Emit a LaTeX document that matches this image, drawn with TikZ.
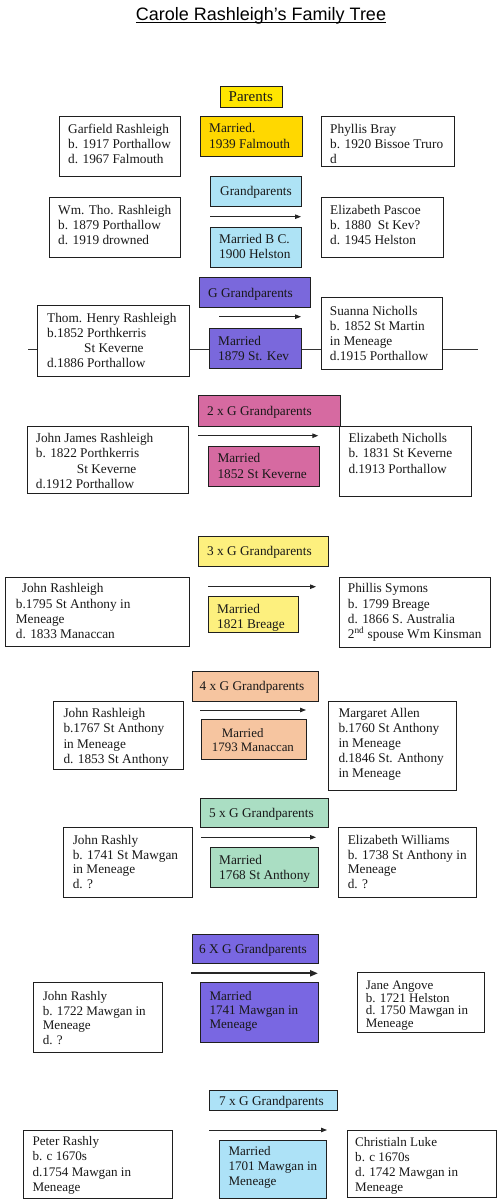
\documentclass[tikz,border=0pt]{standalone}
\usepackage{fontspec}
\setmainfont{Liberation Serif}
\newfontfamily\titlefont{Liberation Sans}
\usetikzlibrary{arrows.meta}
\definecolor{cParents}{HTML}{FFE600}
\definecolor{cGold}{HTML}{FFD800}
\definecolor{cBlue}{HTML}{AEE3F5}
\definecolor{cPurple}{HTML}{7A68DC}
\definecolor{cPink}{HTML}{D66AA1}
\definecolor{cLYellow}{HTML}{FDF07E}
\definecolor{cPeach}{HTML}{F6C5A0}
\definecolor{cGreen}{HTML}{AADEC3}
\definecolor{cPurpleB}{HTML}{7967E2}
\definecolor{cBlueB}{HTML}{ADE2F7}
\newcommand\tstrut{\rule{0pt}{10.6pt}}
% #1 opt text style, #2 name, #3 x, #4 y, #5 w, #6 h, #7 fill, #8 pad, #9 text
\newcommand\pbx[9][]{%
  \node[boxst, fill=#7, minimum width=#5pt, minimum height=#6pt] (#2) at (#3,#4) {};
  \node[txtst, #1] (#2-t) at ([xshift=#8pt, yshift=-6.2pt]#2.north west) {\tstrut #9};
}
\newcommand\lbx[9][]{%
  \node[boxst, fill=#7, minimum width=#5pt, minimum height=#6pt] (#2) at (#3,#4) {};
  \node[lblst, #1] (#2-t) at ([xshift=#8pt, yshift=-4.6pt]#2.west) {#9};
}
\tikzset{
  boxst/.style={draw=black!88, line width=0.8pt, anchor=north west, inner sep=0pt},
  txtst/.style={anchor=north west, inner sep=0pt, align=left, text=black!90,
    font=\fontsize{13.3}{15.2}\selectfont},
  lblst/.style={anchor=base west, inner sep=0pt, text=black!90,
    font=\fontsize{13.3}{15.2}\selectfont},
  arr/.style={-{Triangle[length=6pt,width=4.5pt]}, line width=0.9pt, draw=black!85},
  thickarr/.style={-{Triangle[length=8pt,width=6pt]}, line width=2pt, draw=black!85},
}
\begin{document}
\begin{tikzpicture}[x=1pt, y=-1pt]
\fill[white] (0,0) rectangle (500,1201);
\useasboundingbox (0,0) rectangle (500,1201);

% title
\node[font=\titlefont\fontsize{18}{20}\selectfont, anchor=base, inner sep=0pt] (title) at (261,20.7) {Carole Rashleigh’s Family Tree};
\draw[line width=1pt] ([yshift=-2.3pt]title.base west) -- ([yshift=-2.3pt]title.base east);

% ---- Parents
\lbx[font=\fontsize{15}{17}\selectfont]{parents}{220}{86}{62}{21}{cParents}{8.5}{Parents}
\pbx{garfield}{59}{116}{121}{60}{white}{9}{Garfield Rashleigh\\b. 1917 Porthallow\\d. 1967 Falmouth}
\pbx{married1}{200}{116}{102}{40}{cGold}{9}{Married.\\1939 Falmouth}
\pbx{phyllis}{321}{116}{133}{50}{white}{9}{Phyllis Bray\\b. 1920 Bissoe Truro\\d}

% ---- Grandparents
\lbx{gp}{210}{176}{91}{30}{cBlue}{10}{Grandparents}
\pbx{wm}{49}{197}{131}{60}{white}{9}{Wm. Tho. Rashleigh\\b. 1879 Porthallow\\d. 1919 drowned}
\coordinate (a2s) at (210,216.7); \coordinate (a2e) at (301,216.7);
\draw[arr] (a2s) -- (a2e);
\pbx[yshift=0.3pt, font=\fontsize{13.3}{15}\selectfont]{married2}{210}{227}{91}{40}{cBlue}{9}{Married B C.\\1900 Helston}
\pbx{pascoe}{321}{197}{122}{60}{white}{9}{Elizabeth Pascoe\\b. 1880\ \ St Kev?\\d. 1945 Helston}

% ---- G Grandparents
\coordinate (lineL) at (28.3,349); \coordinate (lineR) at (478,349);
\draw[line width=0.8pt, black!80] (lineL) -- (lineR);
\lbx{gg}{199}{277}{111}{30}{cPurple}{9}{G Grandparents}
\pbx{thom}{37}{305}{152}{71}{white}{10}{Thom. Henry Rashleigh\\b.1852 Porthkerris\\\hspace*{37pt}St Keverne\\d.1886 Porthallow}
\coordinate (a3s) at (219,316.7); \coordinate (a3e) at (301,316.7);
\draw[arr] (a3s) -- (a3e);
\pbx[yshift=-0.5pt, font=\fontsize{13.3}{15}\selectfont]{married3}{209}{327.7}{92}{40.6}{cPurple}{9}{Married\\1879 St. Kev}
\pbx[yshift=-1pt]{suanna}{320.7}{297.3}{121}{71.5}{white}{9}{Suanna Nicholls\\b. 1852 St Martin\\in Meneage\\d.1915 Porthallow}

% ---- 2 x G Grandparents
\lbx{g2}{198}{395}{142}{31}{cPink}{9}{2 x G Grandparents}
\pbx{johnjames}{26.7}{425.7}{161.6}{67.6}{white}{9}{John James Rashleigh\\b. 1822 Porthkerris\\\hspace*{41pt}St Keverne\\d.1912 Porthallow}
\coordinate (a4s) at (198.3,435.7); \coordinate (a4e) at (318.3,435.7);
\draw[arr] (a4s) -- (a4e);
\pbx[font=\fontsize{13.3}{15.5}\selectfont]{married4}{208.3}{445.7}{111}{40.3}{cPink}{9}{Married\\1852 St Keverne}
\pbx{elizn}{339.3}{425.7}{131.7}{70.3}{white}{9}{Elizabeth Nicholls\\b. 1831 St Keverne\\d.1913 Porthallow}

% ---- 3 x G Grandparents
\lbx{g3}{198}{535.7}{130}{30.3}{cLYellow}{9}{3 x G Grandparents}
\pbx[yshift=0.8pt]{johnr5}{5}{576.7}{184}{69}{white}{10.7}{\hspace*{6pt}John Rashleigh\\b.1795 St Anthony in\\Meneage\\d. 1833 Manaccan}
\coordinate (a5s) at (208,586.7); \coordinate (a5e) at (316,586.7);
\draw[arr] (a5s) -- (a5e);
\pbx[font=\fontsize{13.3}{15.6}\selectfont]{married5}{208}{596}{90}{35.7}{cLYellow}{9}{Married\\1821 Breage}
\pbx[yshift=0.8pt]{phillis}{339}{576.7}{151}{70}{white}{8.7}{Phillis Symons\\b. 1799 Breage\\d. 1866 S. Australia\\2\textsuperscript{nd} spouse Wm Kinsman}

% ---- 4 x G Grandparents
\lbx{g4}{192}{670.7}{126}{30}{cPeach}{7.5}{4 x G Grandparents}
\pbx{johnr6}{53.3}{700.7}{129.7}{68.6}{white}{10}{John Rashleigh\\b.1767 St Anthony\\in Meneage\\d. 1853 St Anthony}
\coordinate (a6s) at (200,710); \coordinate (a6e) at (306,710);
\draw[arr] (a6s) -- (a6e);
\pbx[yshift=-1pt, font=\fontsize{12.9}{14.6}\selectfont]{married6}{201}{719.3}{105}{40}{cPeach}{10.7}{\hspace*{10pt}Married\\1793 Manaccan}
\pbx[font=\fontsize{13.3}{15}\selectfont]{margaret}{328.3}{700.7}{127.7}{89.3}{white}{10}{Margaret Allen\\b.1760 St Anthony\\in Meneage\\d.1846 St. Anthony\\in Meneage}

% ---- 5 x G Grandparents
\lbx{g5}{200}{798.3}{128}{29}{cGreen}{9}{5 x G Grandparents}
\pbx[font=\fontsize{13.3}{14.8}\selectfont]{johnrashly7}{63.3}{827.3}{128.7}{69.4}{white}{9.3}{John Rashly\\b. 1741 St Mawgan\\in Meneage\\d. ?}
\coordinate (a7s) at (201,837.3); \coordinate (a7e) at (316,837.3);
\draw[arr] (a7s) -- (a7e);
\pbx[font=\fontsize{13.3}{15}\selectfont]{married7}{210}{847.3}{108}{39.4}{cGreen}{9}{Married\\1768 St Anthony}
\pbx[font=\fontsize{13.3}{14.8}\selectfont]{elizw}{338.3}{827.3}{137.7}{69.4}{white}{9.3}{Elizabeth Williams\\b. 1738 St Anthony in\\Meneage\\d. ?}

% ---- 6 X G Grandparents
\lbx{g6}{192}{934.3}{126}{29}{cPurpleB}{7}{6 X G Grandparents}
\pbx[yshift=-1.2pt, font=\fontsize{13.1}{14.5}\selectfont]{johnrashly8}{33.3}{982.3}{128.7}{70}{white}{9.3}{John Rashly\\b. 1722 Mawgan in\\Meneage\\d. ?}
\coordinate (a8s) at (191,973.3); \coordinate (a8e) at (318,973.3);
\draw[thickarr] (a8s) -- (a8e);
\pbx[yshift=-1.2pt, font=\fontsize{13.1}{14}\selectfont]{married8}{200}{982.3}{118}{60}{cPurpleB}{9.3}{Married\\1741 Mawgan in\\Meneage}
\pbx[yshift=-0.8pt, font=\fontsize{13}{12.5}\selectfont]{jane}{356.7}{971.7}{127.7}{60.6}{white}{9}{Jane Angove\\b. 1721 Helston\\d. 1750 Mawgan in\\Meneage}

% ---- 7 x G Grandparents
\lbx{g7}{209}{1090}{128}{20}{cBlueB}{10}{7 x G Grandparents}
\pbx[yshift=1.3pt, font=\fontsize{13.1}{15.2}\selectfont]{peter}{23.3}{1130}{148.7}{68.3}{white}{9}{Peter Rashly\\b. c 1670s\\d.1754 Mawgan in\\Meneage}
\coordinate (a9s) at (209,1130); \coordinate (a9e) at (327,1130);
\draw[arr] (a9s) -- (a9e);
\pbx[yshift=1.3pt, font=\fontsize{13.1}{15}\selectfont]{married9}{219}{1140}{107}{57.7}{cBlueB}{9.3}{Married\\1701 Mawgan in\\Meneage}
\pbx[yshift=1pt, font=\fontsize{13.1}{15}\selectfont]{christ}{347}{1130}{149}{67.3}{white}{8}{Christialn Luke\\b. c 1670s\\d. 1742 Mawgan in\\Meneage}
\end{tikzpicture}
\end{document}
